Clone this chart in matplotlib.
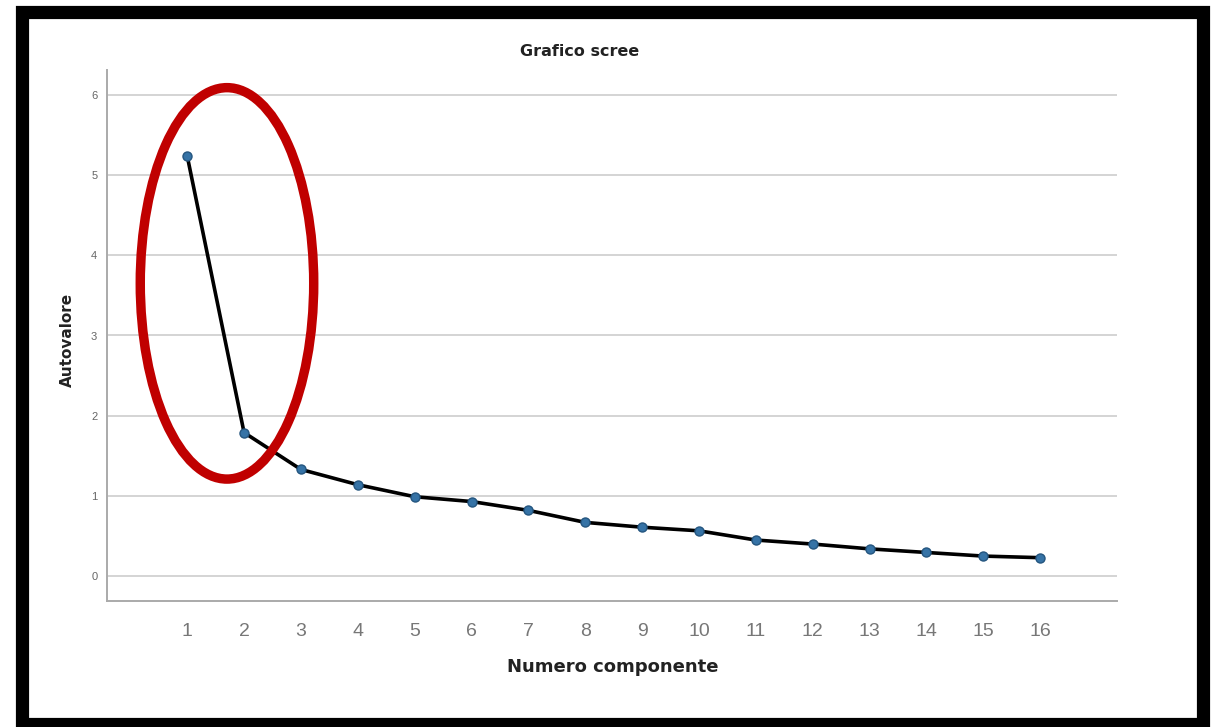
import matplotlib
matplotlib.use("Agg")
import matplotlib.pyplot as plt
from matplotlib.patches import Ellipse, Rectangle

components = list(range(1, 17))
eigenvalues = [5.24, 1.79, 1.33, 1.14, 0.99, 0.93, 0.82, 0.67, 0.61, 0.565,
               0.45, 0.40, 0.34, 0.295, 0.25, 0.23]
y_ticks = [0, 1, 2, 3, 4, 5, 6]
title = "Grafico scree"
xlabel = "Numero componente"
ylabel = "Autovalore"

W, H = 1213, 727
fig = plt.figure(figsize=(W / 100, H / 100), dpi=100)
fig.patch.set_facecolor("white")

ax = fig.add_axes([107 / W, (H - 601) / H, (1117 - 107) / W, (601 - 70) / H])
ax.set_xlim(-0.41, 17.35)
ax.set_ylim(-0.31, 6.31)

ax.plot(components, eigenvalues, color="black", lw=2.6, zorder=3,
        marker="o", markersize=6.5, markerfacecolor="#3673a6",
        markeredgecolor="#24557f", markeredgewidth=1.0)

ax.set_yticks(y_ticks)
ax.set_xticks(components)
ax.yaxis.grid(True, color="#d4d4d4", lw=1.4)
ax.set_axisbelow(True)
ax.tick_params(axis="both", length=0)
ax.tick_params(axis="y", pad=7, labelsize=8, labelcolor="#666666")
ax.tick_params(axis="x", pad=16, labelsize=14, labelcolor="#777777")
for lab in ax.get_xticklabels() + ax.get_yticklabels():
    lab.set_fontfamily("Liberation Sans")

for s in ["top", "right"]:
    ax.spines[s].set_visible(False)
for s in ["left", "bottom"]:
    ax.spines[s].set_color("#aaaaaa")
    ax.spines[s].set_linewidth(1.4)

fig.text(580 / W, 1 - 51 / H, title, ha="center", va="center",
         fontsize=11.5, fontweight="bold", color="#222222", family="DejaVu Sans")
fig.text(613 / W, 1 - 667 / H, xlabel, ha="center", va="center",
         fontsize=13, fontweight="bold", color="#222222", family="DejaVu Sans")
fig.text(67 / W, 1 - 340 / H, ylabel, ha="center", va="center", rotation=90,
         fontsize=11, fontweight="bold", color="#222222", family="DejaVu Sans")

# red highlight ellipse around the first two components
ell = Ellipse((1.70, 3.65), width=3.05, height=4.88, fill=False,
              edgecolor="#c00000", lw=6.8, clip_on=False, zorder=5)
ax.add_patch(ell)

# black frame around the picture
x0, x1 = 22 / W, 1203 / W
y_top, y_bot = 1 - 11.5 / H, 1 - 724 / H
frame = Rectangle((x0, y_bot), x1 - x0, y_top - y_bot,
                  transform=fig.transFigure, fill=False, edgecolor="black",
                  lw=9.5, zorder=10)
fig.patches.append(frame)

fig.savefig("out.png", dpi=100, facecolor="white")
